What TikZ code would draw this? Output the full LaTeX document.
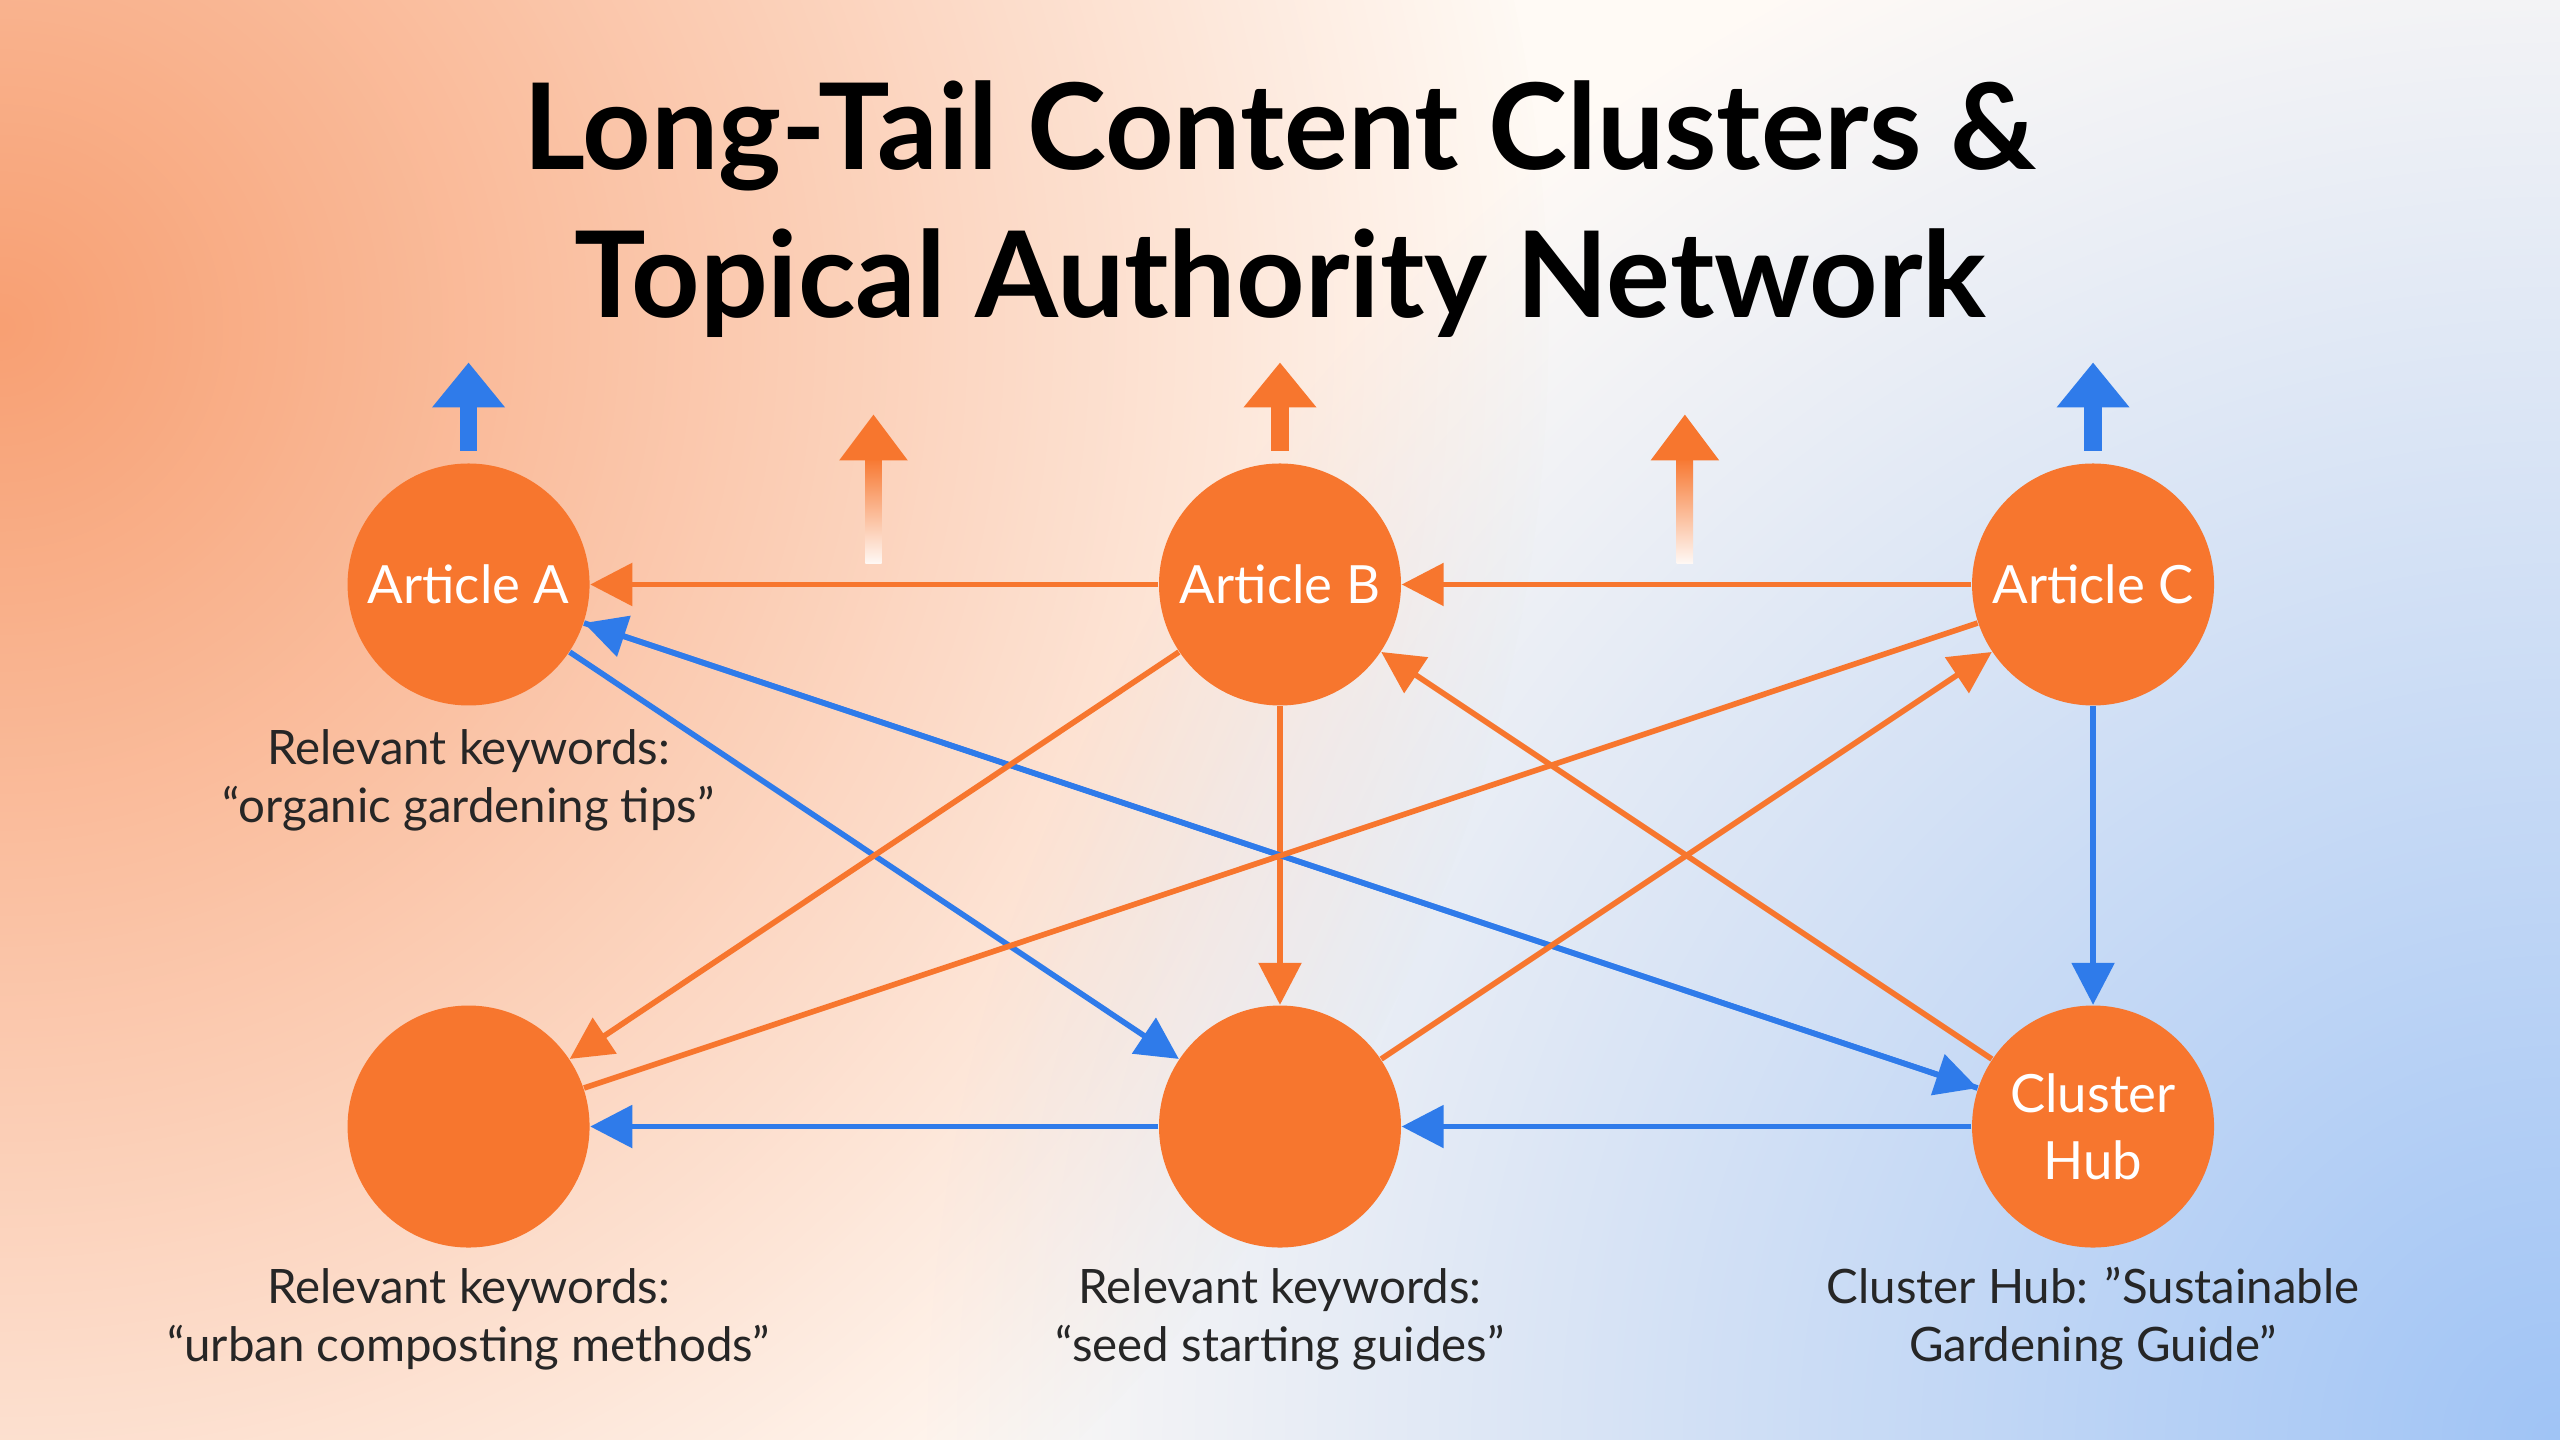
\documentclass[tikz,border=0pt]{standalone}
\usepackage{fontspec}
\setmainfont{Lato}
\usetikzlibrary{arrows.meta,shadings,fadings}
\definecolor{org}{HTML}{F7762E}
\definecolor{blu}{HTML}{2F7BEA}
\definecolor{bgo}{RGB}{248,160,115}
\definecolor{bgb}{RGB}{160,196,246}
\tikzfading[name=radfade, inner color=transparent!0, outer color=transparent!100]
\begin{document}
\begin{tikzpicture}[x=0.016327cm,y=-0.016327cm,
  art/.style={circle,fill=org,minimum size=2.42cm,inner sep=0pt,text=white,font=\fontsize{15}{19}\selectfont,align=center},
  lab/.style={font=\fontsize{13.5}{16.5}\selectfont,align=center,text=black!85},
  oa/.style={draw=org,line width=1.6pt,-{Triangle[length=0.42cm,width=0.42cm]}},
  ba/.style={draw=blu,line width=1.6pt,-{Triangle[length=0.42cm,width=0.42cm]}},
  up/.style={line width=5pt,-{Triangle[length=0.45cm,width=0.7cm]}}]
\useasboundingbox (0,0) rectangle (1568,882);
\fill[white!96!orange] (0,0) rectangle (1568,882);
\begin{scope}
\clip (0,0) rectangle (1568,882);
\fill[bgo,path fading=radfade] (0,200) circle (950);
\fill[bgb,path fading=radfade] (1568,882) circle (1000);
\end{scope}
\node[font=\bfseries\fontsize{34}{42}\selectfont,align=center] (title) at (784,128) {Long-Tail Content Clusters \&\\Topical Authority Network};
\node[art] (A) at (287,358) {Article A};
\node[art] (B) at (784,358) {Article B};
\node[art] (C) at (1282,358) {Article C};
\node[art] (D) at (287,690) {};
\node[art] (E) at (784,690) {};
\node[art] (H) at (1282,690) {Cluster\\Hub};
\node[lab] (la) at (287,478) {Relevant keywords:\\“organic gardening tips”};
\node[lab] (ld) at (287,808) {Relevant keywords:\\“urban composting methods”};
\node[lab] (le) at (784,808) {Relevant keywords:\\“seed starting guides”};
\node[lab] (lh) at (1282,808) {Cluster Hub: "Sustainable\\Gardening Guide”};
\draw[oa] (B) -- (A);
\draw[oa] (C) -- (B);
\draw[oa] (B) -- (E);
\draw[ba] (C) -- (H);
\draw[ba] (E) -- (D);
\draw[ba] (H) -- (E);
\draw[ba] (A) -- (E);
\draw[ba] (H) -- (A);
\draw[ba] (A) -- (H);
\draw[oa] (B) -- (D);
\draw[draw=org,line width=1.6pt] (D) -- (C);
\draw[oa] (E) -- (C);
\draw[oa] (H) -- (B);
\coordinate (ua1) at (287,276); \coordinate (ua2) at (287,222);
\coordinate (ub1) at (784,276); \coordinate (ub2) at (784,222);
\coordinate (uc1) at (1282,276); \coordinate (uc2) at (1282,222);
\draw[up,blu] (ua1) -- (ua2);
\draw[up,org] (ub1) -- (ub2);
\draw[up,blu] (uc1) -- (uc2);
\foreach \x in {535,1032}{
  \shade[top color=org,bottom color=org!5] (\x-5,345) rectangle (\x+5,280);
  \fill[org] (\x-21,282) -- (\x+21,282) -- (\x,254) -- cycle;
}
\end{tikzpicture}
\end{document}
